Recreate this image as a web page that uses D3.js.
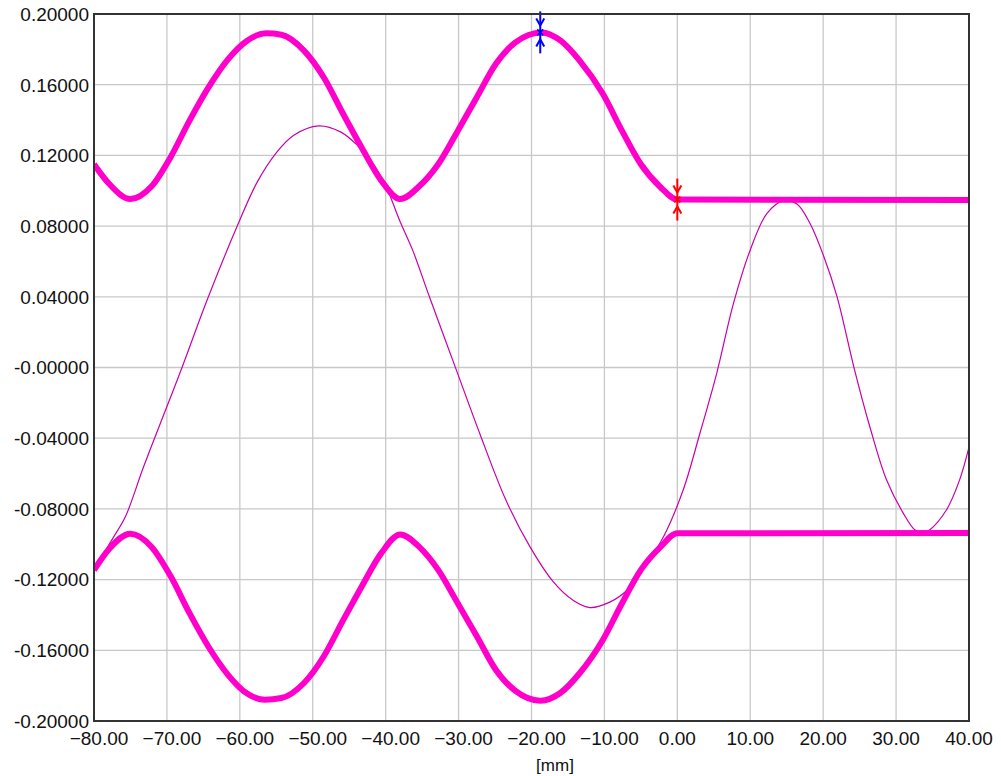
<!DOCTYPE html>
<html>
<head>
<meta charset="utf-8">
<script src="https://cdn.jsdelivr.net/npm/d3@7"></script>
<style>
  body { margin: 0; background: #fff; }
  svg { display: block; font-family: "Liberation Sans", Arial, sans-serif; }
  .grid line { stroke: #c8c8c8; stroke-width: 1.3; }
  .tick-label { font-size: 19px; fill: #111; }
</style>
</head>
<body>
<svg id="chart" width="1001" height="776"></svg>
<script>
// tick values
const xTicks = [-80, -70, -60, -50, -40, -30, -20, -10, 0, 10, 20, 30, 40];
const yTicks = [0.2, 0.16, 0.12, 0.08, 0.04, 0, -0.04, -0.08, -0.12, -0.16, -0.2];

// upper envelope (thick)
const upperX = [-80, -77.9, -75.0, -72.1, -69.5, -66.9, -64.3, -61.6, -59.0, -56.4, -54.3, -51.2, -48.5, -45.9, -43.3, -40.6, -38.0, -35.4, -32.8, -30.1, -27.5, -24.9, -22.2, -18.6, -16.0, -13.4, -10.2, -7.6, -5.0, -2.3, 0, 40];
const upperY = [0.1150, 0.1038, 0.0953, 0.1025, 0.1190, 0.1397, 0.1585, 0.1745, 0.1849, 0.1891, 0.1883, 0.1793, 0.1642, 0.1440, 0.1245, 0.1057, 0.0953, 0.1025, 0.1150, 0.1340, 0.1529, 0.1717, 0.1840, 0.1896, 0.1849, 0.1736, 0.1547, 0.1340, 0.1150, 0.1020, 0.0950, 0.0948];

// lower envelope (thick)
const lowerX = [-80, -77.9, -75.0, -72.1, -69.5, -66.9, -64.3, -61.6, -59.0, -56.6, -54.3, -51.2, -48.5, -45.9, -43.3, -40.6, -38.0, -35.4, -32.8, -30.1, -27.5, -24.9, -22.2, -18.8, -16.0, -13.4, -10.2, -7.6, -5.0, -2.3, 0, 40];
const lowerY = [-0.1146, -0.1025, -0.0940, -0.1015, -0.1180, -0.1390, -0.1580, -0.1740, -0.1845, -0.1880, -0.1870, -0.1785, -0.1635, -0.1435, -0.1240, -0.1050, -0.0945, -0.1015, -0.1145, -0.1335, -0.1520, -0.1710, -0.1830, -0.1885, -0.1840, -0.1730, -0.1540, -0.1335, -0.1145, -0.1015, -0.0938, -0.0936];

// measured profile (thin)
const profX = [-78.5, -77.3, -75.7, -73.2, -70.2, -67.9, -64.5, -60.4, -57.6, -54.9, -52.6, -49.2, -46.2, -43.9, -41.5, -39.9, -38.1, -36.3, -34.0, -30.3, -27.1, -23.5, -20.2, -17.0, -14.3, -12.0, -9.2, -6.9, -4.5, -1.9, 0.8, 3.1, 5.4, 7.7, 10.0, 12.3, 14.6, 16.4, 18.2, 20.1, 21.9, 24.2, 26.4, 28.7, 31.0, 32.6, 33.8, 34.6, 36.9, 38.7, 40];
const profY = [-0.1040, -0.0958, -0.0845, -0.0562, -0.0242, 0.0003, 0.0380, 0.0796, 0.1050, 0.1220, 0.1314, 0.1367, 0.1333, 0.1258, 0.1140, 0.1020, 0.0833, 0.0664, 0.0400, -0.0015, -0.0373, -0.0751, -0.1015, -0.1213, -0.1317, -0.1358, -0.1326, -0.1260, -0.1130, -0.0958, -0.0693, -0.0372, -0.0033, 0.0363, 0.0665, 0.0872, 0.0944, 0.0925, 0.0815, 0.0627, 0.0401, 0.0004, -0.0335, -0.0637, -0.0825, -0.0919, -0.0936, -0.0919, -0.0806, -0.0637, -0.0450];

// cursors
const cursorX = [-18.8, 0];
const cursorY = [0.1896, 0.0950];
const cursorColor = ["#0000ff", "#ff0000"];

const svg = d3.select("#chart");
const margin = { left: 94, top: 14, right: 32, bottom: 55 };
const width = 1001 - margin.left - margin.right,
    height = 776 - margin.top - margin.bottom;

const x = d3.scaleLinear().domain([-80, 40]).range([0, width]);
const y = d3.scaleLinear().domain([-0.2, 0.2]).range([height, 0]);

const g = svg.append("g").attr("transform", `translate(${margin.left},${margin.top})`);

// grid
const grid = g.append("g").attr("class", "grid");
grid.selectAll("line.v").data(xTicks).join("line").attr("class", "v")
    .attr("x1", d => x(d)).attr("x2", d => x(d)).attr("y1", 0).attr("y2", height);
grid.selectAll("line.h").data(yTicks).join("line").attr("class", "h")
    .attr("x1", 0).attr("x2", width).attr("y1", d => y(d)).attr("y2", d => y(d));

// x labels
const fmtX = d3.format(".2f");
g.selectAll("text.xl").data(xTicks).join("text")
    .attr("class", "tick-label xl")
    .attr("x", d => x(d))
    .attr("y", height + 24)
    .attr("dx", d => d < 0 ? 5 : 0)
    .attr("text-anchor", "middle")
    .text(d => fmtX(d));

// y labels
g.selectAll("text.yl").data(yTicks).join("text")
    .attr("class", "tick-label yl")
    .attr("x", -5)
    .attr("y", d => y(d))
    .attr("dy", "0.36em")
    .attr("text-anchor", "end")
    .text(d => d === 0 ? "-0.00000" : d.toFixed(5));

// axis title
svg.append("text").attr("class", "tick-label")
    .attr("x", 555).attr("y", 771)
    .attr("text-anchor", "middle")
    .style("font-size", "17px")
    .text("[mm]");

// clip
svg.append("defs").append("clipPath").attr("id", "plot-clip")
    .append("rect").attr("width", width).attr("height", height);

const plot = g.append("g").attr("clip-path", "url(#plot-clip)");

const thin = d3.line()
    .x(d => x(d[0]))
    .y(d => y(d[1]))
    .curve(d3.curveCatmullRom.alpha(0.5));

// monotone keeps the long flat tail flat
const thick = d3.line()
    .x(d => x(d[0]))
    .y(d => y(d[1]))
    .curve(d3.curveMonotoneX);

plot.append("path")
    .datum(d3.zip(profX, profY))
    .attr("fill", "none")
    .attr("stroke", "#c800a8")
    .attr("stroke-width", 1.2)
    .attr("d", thin);

[[upperX, upperY], [lowerX, lowerY]].forEach(([xs, ys]) => {
    plot.append("path")
        .datum(d3.zip(xs, ys))
        .attr("fill", "none")
        .attr("stroke", "#ff00cc")
        .attr("stroke-width", 6)
        .attr("stroke-linejoin", "round")
        .attr("d", thick);
});

// cursor markers
const cur = g.selectAll("g.cursor").data(d3.zip(cursorX, cursorY, cursorColor)).join("g")
    .attr("class", "cursor")
    .attr("transform", d => `translate(${x(d[0])},${y(d[1])})`)
    .attr("stroke", d => d[2])
    .attr("fill", "none")
    .attr("stroke-width", 2);
cur.append("line").attr("y1", -21).attr("y2", 21);
cur.append("path").attr("d", "M-4,-14 L0,-7 L4,-14");
cur.append("path").attr("d", "M-4,14 L0,7 L4,14");
cur.append("path").attr("d", "M-3,-3 L0,0 L3,-3 M-3,3 L0,0 L3,3").attr("stroke-width", 1.5);

// frame
g.append("rect")
    .attr("width", width).attr("height", height)
    .attr("fill", "none")
    .attr("stroke", "#333")
    .attr("stroke-width", 2);
</script>
</body>
</html>
